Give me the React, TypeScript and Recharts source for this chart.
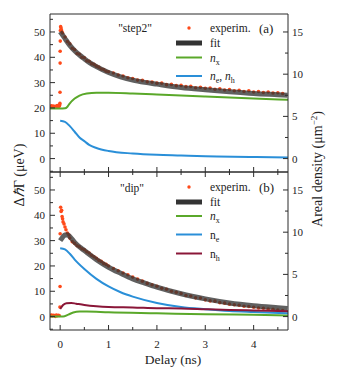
import React from "react";
import { ComposedChart, Line, Scatter, XAxis, YAxis, Legend } from "recharts";

const FONT = "Liberation Serif, Times New Roman, serif";
const FRAME = "#2b2b2b";
const TEXT = "#222";
const RED = "#ff4a1a";
const FIT = "#333333";
const GREEN = "#5aa82a";
const BLUE = "#2a8fd8";
const MAROON = "#8a1638";

// delay axis (ns)
const delayDomain = [-0.21, 4.71];
const delayTicks = [0, 0.5, 1, 1.5, 2, 2.5, 3, 3.5, 4, 4.5];
// left axis: ΔħΓ (µeV)
const gammaDomain = [-5.3, 57.1];
const gammaTicks = [-5, 0, 5, 10, 15, 20, 25, 30, 35, 40, 45, 50, 55];
// right axis: areal density (µm^-2)
const densityDomain = [-1.59, 17.13];
const densityTicks = [0, 2.5, 5, 7.5, 10, 12.5, 15];

// panel (a) "step2"
const expA = [
  { t: -0.2, v: 20.5 }, { t: -0.18, v: 20.8 }, { t: -0.16, v: 20.4 }, { t: -0.14, v: 20.7 },
  { t: -0.12, v: 20.3 }, { t: -0.1, v: 20.6 }, { t: -0.08, v: 20.5 }, { t: -0.06, v: 20.9 },
  { t: -0.04, v: 20.4 }, { t: -0.02, v: 20.7 }, { t: -0.01, v: 21.2 }, { t: -0.005, v: 21.8 },
  { t: -0.003, v: 26.2 }, { t: -0.001, v: 37.7 }, { t: 0.0, v: 42.4 }, { t: 0.002, v: 46.4 },
  { t: 0.005, v: 50.6 }, { t: 0.01, v: 52.1 }, { t: 0.018, v: 51.6 }, { t: 0.025, v: 50.9 },
  { t: 0.035, v: 50.2 }, { t: 0.05, v: 49.6 }, { t: 0.1, v: 48.0 }, { t: 0.15, v: 46.2 },
  { t: 0.2, v: 45.3 }, { t: 0.25, v: 43.6 }, { t: 0.3, v: 43.0 }, { t: 0.35, v: 41.5 },
  { t: 0.4, v: 41.2 }, { t: 0.45, v: 40.0 }, { t: 0.5, v: 39.8 }, { t: 0.55, v: 38.6 },
  { t: 0.6, v: 38.4 }, { t: 0.65, v: 37.5 }, { t: 0.7, v: 37.2 }, { t: 0.75, v: 36.5 },
  { t: 0.8, v: 36.1 }, { t: 0.85, v: 35.4 }, { t: 0.9, v: 35.2 }, { t: 0.95, v: 34.5 },
  { t: 1.0, v: 34.3 }, { t: 1.1, v: 33.8 }, { t: 1.2, v: 33.0 }, { t: 1.3, v: 32.6 },
  { t: 1.4, v: 31.9 }, { t: 1.5, v: 31.6 }, { t: 1.6, v: 31.0 }, { t: 1.7, v: 30.9 },
  { t: 1.8, v: 30.3 }, { t: 1.9, v: 30.2 }, { t: 2.0, v: 29.8 }, { t: 2.1, v: 29.8 },
  { t: 2.2, v: 29.2 }, { t: 2.3, v: 29.3 }, { t: 2.4, v: 28.8 }, { t: 2.5, v: 28.9 },
  { t: 2.6, v: 28.4 }, { t: 2.7, v: 28.5 }, { t: 2.8, v: 28.0 }, { t: 2.9, v: 28.2 },
  { t: 3.0, v: 27.8 }, { t: 3.1, v: 27.9 }, { t: 3.2, v: 27.4 }, { t: 3.3, v: 27.6 },
  { t: 3.4, v: 27.1 }, { t: 3.5, v: 27.3 }, { t: 3.6, v: 26.8 }, { t: 3.7, v: 27.0 },
  { t: 3.8, v: 26.5 }, { t: 3.9, v: 26.8 }, { t: 4.0, v: 26.3 }, { t: 4.1, v: 26.5 },
  { t: 4.2, v: 26.1 }, { t: 4.3, v: 26.3 }, { t: 4.4, v: 25.9 }, { t: 4.5, v: 26.0 },
  { t: 4.6, v: 25.7 },
];
const fitA = [
  { t: 0, v: 50.1 }, { t: 0.05, v: 48.8 }, { t: 0.1, v: 47.4 }, { t: 0.2, v: 44.7 },
  { t: 0.3, v: 42.6 }, { t: 0.4, v: 40.9 }, { t: 0.5, v: 39.4 }, { t: 0.6, v: 38.0 },
  { t: 0.75, v: 36.3 }, { t: 1.0, v: 34.0 }, { t: 1.25, v: 32.3 }, { t: 1.5, v: 31.0 },
  { t: 1.75, v: 30.1 }, { t: 2.0, v: 29.4 }, { t: 2.5, v: 28.1 }, { t: 3.0, v: 27.2 },
  { t: 3.5, v: 26.4 }, { t: 4.0, v: 25.7 }, { t: 4.5, v: 25.2 }, { t: 4.7, v: 25.0 },
];
const nxA = [
  { t: -0.21, v: 5.94 }, { t: 0, v: 5.94 }, { t: 0.1, v: 5.96 }, { t: 0.15, v: 6.15 },
  { t: 0.2, v: 6.54 }, { t: 0.3, v: 7.11 }, { t: 0.4, v: 7.47 }, { t: 0.55, v: 7.71 },
  { t: 0.75, v: 7.8 }, { t: 1.0, v: 7.8 }, { t: 1.5, v: 7.71 }, { t: 2.0, v: 7.59 },
  { t: 2.5, v: 7.47 }, { t: 3.0, v: 7.35 }, { t: 3.5, v: 7.23 }, { t: 4.0, v: 7.11 },
  { t: 4.71, v: 6.96 },
];
const nehA = [
  { t: 0, v: 4.47 }, { t: 0.1, v: 4.35 }, { t: 0.2, v: 3.84 }, { t: 0.3, v: 3.18 },
  { t: 0.4, v: 2.49 }, { t: 0.5, v: 2.07 }, { t: 0.6, v: 1.62 }, { t: 0.75, v: 1.26 },
  { t: 1.0, v: 0.9 }, { t: 1.5, v: 0.6 }, { t: 2.0, v: 0.44 }, { t: 2.5, v: 0.36 },
  { t: 3.0, v: 0.27 }, { t: 4.0, v: 0.2 }, { t: 4.71, v: 0.12 },
];

// panel (b) "dip"
const expB = [
  { t: -0.2, v: 0.3 }, { t: -0.18, v: 0.6 }, { t: -0.16, v: 0.2 }, { t: -0.14, v: 0.5 },
  { t: -0.12, v: 0.4 }, { t: -0.1, v: 0.1 }, { t: -0.08, v: 0.6 }, { t: -0.06, v: 0.3 },
  { t: -0.04, v: 0.5 }, { t: -0.02, v: 0.4 }, { t: -0.005, v: 3.8 }, { t: -0.002, v: 11.9 },
  { t: 0.0, v: 32.7 }, { t: 0.01, v: 43.2 }, { t: 0.02, v: 41.5 }, { t: 0.03, v: 42.0 },
  { t: 0.04, v: 39.5 }, { t: 0.05, v: 38.6 }, { t: 0.06, v: 37.4 }, { t: 0.08, v: 36.6 },
  { t: 0.1, v: 35.4 }, { t: 0.12, v: 34.3 }, { t: 0.15, v: 33.0 }, { t: 0.18, v: 32.2 },
  { t: 0.2, v: 31.0 }, { t: 0.25, v: 29.6 }, { t: 0.3, v: 28.9 }, { t: 0.35, v: 28.0 },
  { t: 0.4, v: 27.6 }, { t: 0.45, v: 26.8 }, { t: 0.5, v: 26.4 }, { t: 0.55, v: 25.6 },
  { t: 0.6, v: 25.1 }, { t: 0.65, v: 24.2 }, { t: 0.7, v: 23.6 }, { t: 0.75, v: 23.0 },
  { t: 0.8, v: 22.2 }, { t: 0.85, v: 21.8 }, { t: 0.9, v: 21.0 }, { t: 0.95, v: 20.6 },
  { t: 1.0, v: 20.0 }, { t: 1.1, v: 19.0 }, { t: 1.2, v: 18.1 }, { t: 1.3, v: 17.2 },
  { t: 1.4, v: 16.5 }, { t: 1.5, v: 15.6 }, { t: 1.6, v: 14.8 }, { t: 1.7, v: 14.0 },
  { t: 1.8, v: 13.1 }, { t: 1.9, v: 12.6 }, { t: 2.0, v: 12.0 }, { t: 2.1, v: 11.2 },
  { t: 2.2, v: 10.8 }, { t: 2.3, v: 10.0 }, { t: 2.4, v: 9.6 }, { t: 2.5, v: 9.1 },
  { t: 2.6, v: 8.3 }, { t: 2.7, v: 8.1 }, { t: 2.8, v: 7.4 }, { t: 2.9, v: 7.3 },
  { t: 3.0, v: 6.6 }, { t: 3.1, v: 6.2 }, { t: 3.2, v: 6.1 }, { t: 3.3, v: 5.5 },
  { t: 3.4, v: 5.3 }, { t: 3.5, v: 4.9 }, { t: 3.6, v: 4.7 }, { t: 3.7, v: 4.5 },
  { t: 3.8, v: 4.1 }, { t: 3.9, v: 4.0 }, { t: 4.0, v: 3.7 }, { t: 4.1, v: 3.4 },
  { t: 4.2, v: 3.3 }, { t: 4.3, v: 3.0 }, { t: 4.4, v: 2.9 }, { t: 4.5, v: 2.6 },
  { t: 4.6, v: 2.4 },
];
const fitB = [
  { t: 0, v: 30.0 }, { t: 0.05, v: 31.3 }, { t: 0.1, v: 32.2 }, { t: 0.15, v: 32.3 },
  { t: 0.2, v: 31.6 }, { t: 0.3, v: 29.3 }, { t: 0.4, v: 27.5 }, { t: 0.5, v: 26.1 },
  { t: 0.6, v: 24.6 }, { t: 0.75, v: 22.5 }, { t: 1.0, v: 19.5 }, { t: 1.25, v: 17.1 },
  { t: 1.5, v: 14.9 }, { t: 1.75, v: 13.2 }, { t: 2.0, v: 11.6 }, { t: 2.5, v: 9.0 },
  { t: 3.0, v: 7.0 }, { t: 3.5, v: 5.4 }, { t: 4.0, v: 4.3 }, { t: 4.5, v: 3.5 },
  { t: 4.7, v: 3.2 },
];
const nxB = [
  { t: -0.21, v: 0 }, { t: 0.06, v: 0 }, { t: 0.17, v: 0.24 }, { t: 0.27, v: 0.48 },
  { t: 0.4, v: 0.6 }, { t: 0.55, v: 0.6 }, { t: 1.0, v: 0.51 }, { t: 2.0, v: 0.39 },
  { t: 3.0, v: 0.27 }, { t: 4.0, v: 0.21 }, { t: 4.71, v: 0.12 },
];
const neB = [
  { t: 0, v: 8.1 }, { t: 0.1, v: 7.95 }, { t: 0.2, v: 7.44 }, { t: 0.3, v: 6.75 },
  { t: 0.5, v: 5.64 }, { t: 0.75, v: 4.47 }, { t: 1.0, v: 3.57 }, { t: 1.25, v: 2.88 },
  { t: 1.5, v: 2.37 }, { t: 2.0, v: 1.62 }, { t: 2.5, v: 1.14 }, { t: 3.0, v: 0.87 },
  { t: 3.5, v: 0.66 }, { t: 4.0, v: 0.54 }, { t: 4.71, v: 0.39 },
];
const nhB = [
  { t: 0, v: 0.9 }, { t: 0.06, v: 1.38 }, { t: 0.13, v: 1.59 }, { t: 0.23, v: 1.62 },
  { t: 0.33, v: 1.53 }, { t: 0.5, v: 1.38 }, { t: 0.75, v: 1.23 }, { t: 1.0, v: 1.14 },
  { t: 1.5, v: 1.08 }, { t: 2.0, v: 0.99 }, { t: 2.5, v: 0.96 }, { t: 3.0, v: 0.87 },
  { t: 3.5, v: 0.78 }, { t: 4.0, v: 0.72 }, { t: 4.71, v: 0.63 },
];

const M = 4;
const isMult = (v: number, step: number) => Math.abs(v / step - Math.round(v / step)) < 1e-6;
const len = (major: boolean) => (major ? 5 : 3);

const LeftTick = (props: any) => {
  const { x, y, payload } = props;
  const v = payload.value as number;
  const major = isMult(v, 10);
  const ax = x + M;
  return (
    <g>
      <line x1={ax} x2={ax + len(major)} y1={y} y2={y} stroke={FRAME} />
      {major && (
        <text x={x - 1} y={y + 4} textAnchor="end" fontSize={11} fontFamily={FONT} fill={TEXT}>
          {v}
        </text>
      )}
    </g>
  );
};

const RightTick = (props: any) => {
  const { x, y, payload } = props;
  const v = payload.value as number;
  const major = isMult(v, 5);
  const ax = x - M;
  return (
    <g>
      <line x1={ax} x2={ax - len(major)} y1={y} y2={y} stroke={FRAME} />
      {major && (
        <text x={x} y={y + 4} textAnchor="start" fontSize={11} fontFamily={FONT} fill={TEXT}>
          {v}
        </text>
      )}
    </g>
  );
};

const bottomTick = (labels: boolean) => (props: any) => {
  const { x, y, payload } = props;
  const v = payload.value as number;
  const major = isMult(v, 1);
  const ay = y - M;
  return (
    <g>
      <line x1={x} x2={x} y1={ay} y2={ay - len(major)} stroke={FRAME} />
      {labels && major && (
        <text x={x} y={ay + 18} textAnchor="middle" fontSize={11} fontFamily={FONT} fill={TEXT}>
          {v}
        </text>
      )}
    </g>
  );
};

const TopTick = (props: any) => {
  const { x, y, payload } = props;
  const major = isMult(payload.value, 1);
  const ay = y + M;
  return <line x1={x} x2={x} y1={ay} y2={ay + len(major)} stroke={FRAME} />;
};

const Sub = ({ children }: { children: React.ReactNode }) => (
  <tspan fontSize={8} dy={3}>{children}</tspan>
);

interface Row {
  kind: "dot" | "line";
  color: string;
  width?: number;
  y: number;
  label: React.ReactNode;
}

const PanelLegend = ({ rows, title, titleX, titleY, tag, h }: { rows: Row[]; title: string; titleX: number; titleY: number; tag: string; h: number }) => (
  <svg width={339} height={h} style={{ display: "block" }}>
    <text x={titleX} y={titleY} textAnchor="middle" fontSize={11.5} fontFamily={FONT} fill={TEXT}>{title}</text>
    <text x={259} y={rows[0].y + 4.5} fontSize={13} fontFamily={FONT} fill={TEXT}>{tag}</text>
    {rows.map((r, i) => (
      <g key={i}>
        {r.kind === "dot" ? (
          <circle cx={189} cy={r.y} r={1.7} fill={r.color} />
        ) : (
          <line x1={176} x2={202} y1={r.y} y2={r.y} stroke={r.color} strokeWidth={r.width} />
        )}
        <text x={210} y={r.y + 4} fontSize={11.5} fontFamily={FONT} fill={TEXT}>{r.label}</text>
      </g>
    ))}
  </svg>
);

const legendRowsA: Row[] = [
  { kind: "dot", color: RED, y: 28, label: "experim." },
  { kind: "line", color: FIT, width: 5, y: 43, label: "fit" },
  { kind: "line", color: GREEN, width: 2, y: 57.5, label: <><tspan fontStyle="italic">n</tspan><Sub>x</Sub></> },
  {
    kind: "line", color: BLUE, width: 2, y: 76,
    label: <><tspan fontStyle="italic">n</tspan><Sub>e</Sub><tspan dy={-3}>, </tspan><tspan fontStyle="italic">n</tspan><Sub>h</Sub></>,
  },
];
const legendRowsB: Row[] = [
  { kind: "dot", color: RED, y: 37, label: "experim." },
  { kind: "line", color: FIT, width: 5, y: 52, label: "fit" },
  { kind: "line", color: GREEN, width: 2, y: 66, label: <><tspan fontStyle="italic">n</tspan><Sub>x</Sub></> },
  { kind: "line", color: BLUE, width: 2, y: 84.5, label: <>n<Sub>e</Sub></> },
  { kind: "line", color: MAROON, width: 2, y: 103.5, label: <>n<Sub>h</Sub></> },
];

const dotShape = (p: any) => <circle cx={p.cx} cy={p.cy} r={1.8} fill={RED} />;

const Panel = ({ top, height, margin, bottomHeight, labels, exp, fit, curves, legend }: any) => (
  <div style={{ position: "absolute", left: 0, top, width: 339, height }}>
    <ComposedChart width={339} height={height} margin={margin}>
      <XAxis xAxisId="t" orientation="top" dataKey="t" type="number" domain={delayDomain} allowDataOverflow
        ticks={delayTicks} interval={0} height={10} tickSize={0} tickMargin={M} stroke={FRAME}
        tick={labels ? TopTick : false} />
      <XAxis xAxisId="b" dataKey="t" type="number" domain={delayDomain} allowDataOverflow
        ticks={delayTicks} interval={0} height={bottomHeight} tickSize={0} tickMargin={M} stroke={FRAME}
        tick={bottomTick(labels)} />
      <YAxis yAxisId="l" type="number" domain={gammaDomain} allowDataOverflow ticks={gammaTicks}
        interval={0} width={50} tickSize={0} tickMargin={M} stroke={FRAME} tick={LeftTick} />
      <YAxis yAxisId="r" orientation="right" type="number" domain={densityDomain} allowDataOverflow
        ticks={densityTicks} interval={0} width={51} tickSize={0} tickMargin={M} stroke={FRAME} tick={RightTick} />
      {/* experimental points sit below the fit band */}
      <Scatter xAxisId="b" yAxisId="l" data={exp} dataKey="v" shape={dotShape} zIndex={100}
        isAnimationActive={false} />
      <Line xAxisId="b" yAxisId="l" data={fit} dataKey="v" type="monotone" stroke={FIT} strokeOpacity={0.78}
        strokeWidth={5} dot={false} activeDot={false} zIndex={450} isAnimationActive={false} />
      {curves.map((c: any, i: number) => (
        <Line key={i} xAxisId="b" yAxisId="r" data={c.data} dataKey="v" type="monotone" stroke={c.color}
          strokeWidth={2} dot={false} activeDot={false} zIndex={460} isAnimationActive={false} />
      ))}
      <Legend layout="horizontal" verticalAlign="middle" align="center"
        wrapperStyle={{ left: 0, top: 0, width: 339, height, pointerEvents: "none" }}
        content={() => legend} />
    </ComposedChart>
  </div>
);

export default function App() {
  return (
    <div style={{ position: "absolute", left: 0, top: 0, width: 339, height: 374, background: "#fff", fontFamily: FONT }}>
      <Panel top={0} height={180} margin={{ top: 4, right: 0, bottom: 0, left: 0 }} bottomHeight={8}
        labels={false} exp={expA} fit={fitA}
        curves={[{ data: nxA, color: GREEN }, { data: nehA, color: BLUE }]}
        legend={<PanelLegend rows={legendRowsA} title={'"step2"'} titleX={135} titleY={32} tag="(a)" h={180} />} />
      <Panel top={150} height={224} margin={{ top: 12, right: 0, bottom: 0, left: 0 }} bottomHeight={44}
        labels={true} exp={expB} fit={fitB}
        curves={[{ data: nxB, color: GREEN }, { data: neB, color: BLUE }, { data: nhB, color: MAROON }]}
        legend={<PanelLegend rows={legendRowsB} title={'"dip"'} titleX={132} titleY={42} tag="(b)" h={224} />} />
      <svg width={339} height={374} style={{ position: "absolute", left: 0, top: 0, pointerEvents: "none" }}>
        <text transform="translate(24,175) rotate(-90)" textAnchor="middle" fontSize={14} fontFamily={FONT} fill={TEXT}>
          Δ<tspan fontStyle="italic">ℏ</tspan>Γ (μeV)
        </text>
        <text transform="translate(322,169) rotate(-90)" textAnchor="middle" fontSize={14} fontFamily={FONT} fill={TEXT}>
          Areal density (μm<tspan fontSize={9} dy={-5}>−2</tspan><tspan dy={5}>)</tspan>
        </text>
        <text x={173} y={364} textAnchor="middle" fontSize={13.5} fontFamily={FONT} fill={TEXT}>Delay (ns)</text>
      </svg>
    </div>
  );
}
